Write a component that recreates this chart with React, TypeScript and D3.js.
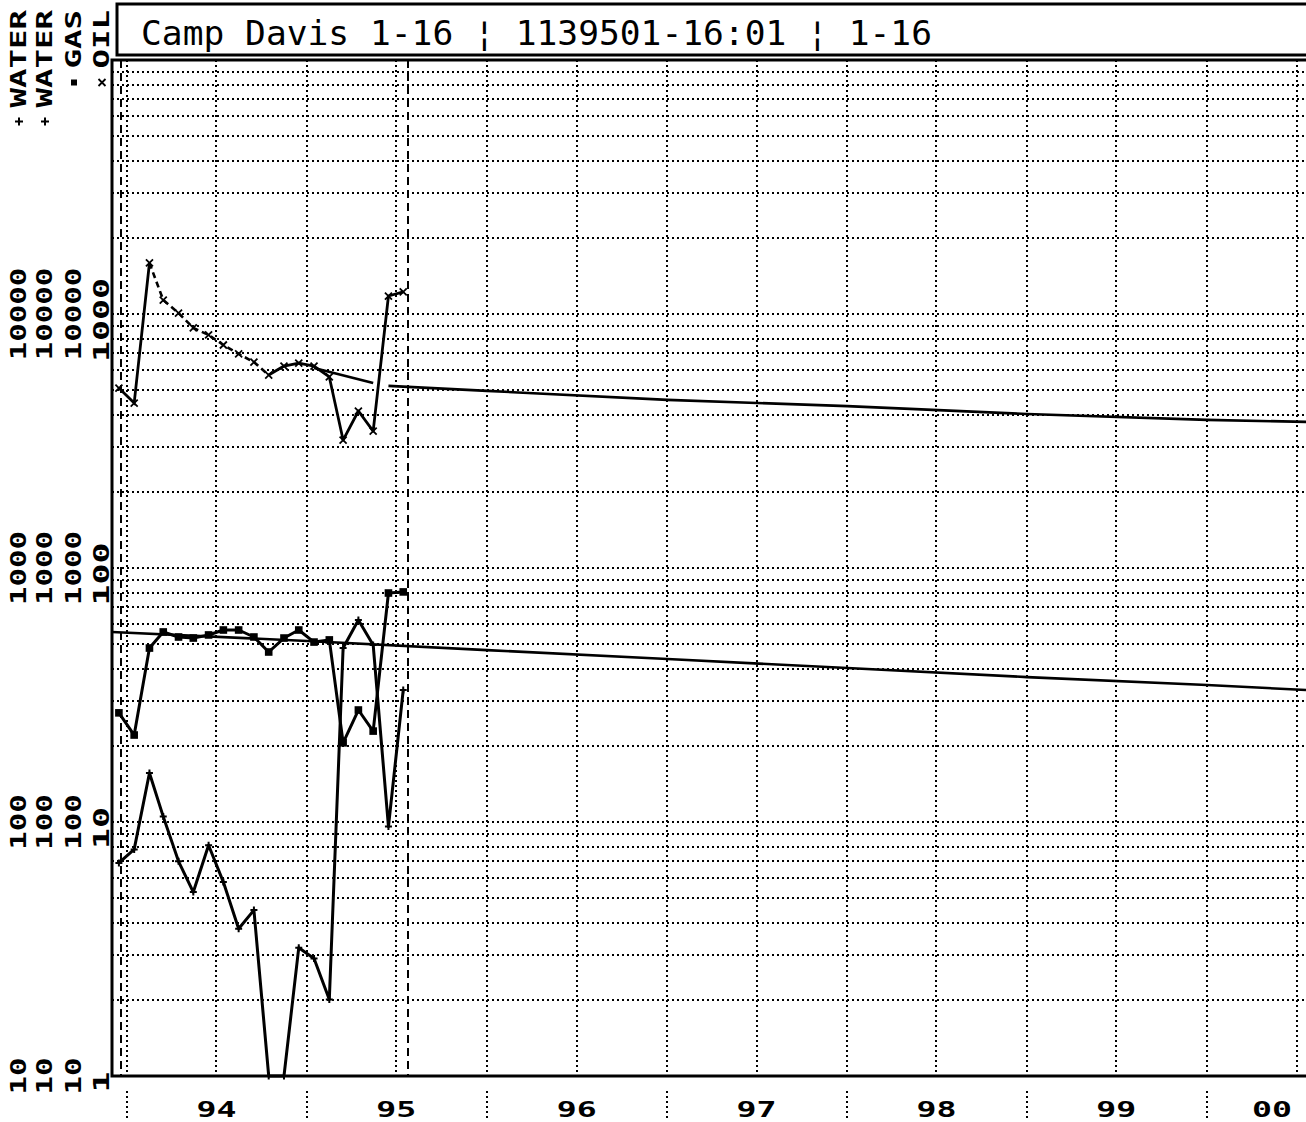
import React from 'react';
import * as d3 from 'd3';

// monthly production points (plotted mid-month)
const months = [
  '1993-12', '1994-01', '1994-02', '1994-03', '1994-04', '1994-05', '1994-06',
  '1994-07', '1994-08', '1994-09', '1994-10', '1994-11', '1994-12', '1995-01',
  '1995-02', '1995-03', '1995-04', '1995-05', '1995-06', '1995-07',
];
const oil = [511, 446, 1588, 1135, 1009, 881, 827, 755, 696, 647, 575, 624, 641, 624, 565, 319, 415, 346, 1177, 1221];
const gas = [269, 220, 484, 560, 535, 530, 545, 570, 570, 535, 467, 530, 570, 511, 521, 205, 276, 228, 797, 805];
const water = [69, 78, 156, 105, 70, 53, 81, 58, 38, 45, 0, 0, 32, 29, 20, 484, 624, 498, 96, 331];

// decline fits / forecasts
const oilFitDates = ['1995-01-15', '1995-05-15'];
const oilFit = [613, 535];
const oilForecastDates = ['1995-06-15', '1996-01-01', '1997-01-01', '1998-01-01', '1999-01-01', '2000-01-01', '2000-07-20'];
const oilForecast = [521, 498, 459, 434, 404, 383, 376];
const gasForecastDates = ['1993-12-01', '1995-01-01', '1996-01-01', '1997-01-01', '1998-01-01', '1999-01-01', '2000-01-01', '2000-07-20'];
const gasForecast = [560, 516, 475, 438, 404, 372, 346, 331];

const limitDates = ['1993-12-19', '1995-07-24'];
const yearLabels = ['94', '95', '96', '97', '98', '99', '00'];
const oilTickLabels = ['1', '10', '100', '1000'];
const waterTickLabels = ['10', '100', '1000', '10000'];
const gasTickLabels = ['10', '100', '1000', '10000'];
const legendItems = [
  { name: 'WATER', mark: 'plus' },
  { name: 'WATER', mark: 'plus' },
  { name: 'GAS', mark: 'square' },
  { name: 'OIL', mark: 'cross' },
];
const title = 'Camp Davis 1-16 \u00A6 1139501-16:01 \u00A6 1-16';

const W = 1306;
const H = 1122;
const margin = { left: 112, top: 60, bottom: 1076, right: 1306 };
const monoBold = '"DejaVu Sans Mono", monospace';

const parseDay = d3.utcParse('%Y-%m-%d');
const parseMonth = d3.utcParse('%Y-%m');

export default function App() {
  const x = d3
    .scaleUtc()
    .domain([parseDay('1993-12-01')!, parseDay('2000-07-20')!])
    .range([margin.left, margin.right]);
  const y = d3.scaleLog().domain([1, 10000]).range([margin.bottom, margin.top]).clamp(true);

  const monthDates = months.map((m) => d3.utcDay.offset(parseMonth(m)!, 14));
  const pts = (vals: number[], dates: Date[], div: number) =>
    vals.map((v, i) => [x(dates[i]), y(v / div)] as [number, number]);

  const line = d3.line<[number, number]>();

  const oilPts = pts(oil, monthDates, 1);
  const gasPts = pts(gas, monthDates, 10);
  const waterPts = pts(water, monthDates, 10);
  const oilFitPts = pts(oilFit, oilFitDates.map((d) => parseDay(d)!), 1);
  const oilFcPts = pts(oilForecast, oilForecastDates.map((d) => parseDay(d)!), 1);
  const gasFcPts = pts(gasForecast, gasForecastDates.map((d) => parseDay(d)!), 10);

  const hGrid = y.ticks().filter((v) => v > 1 && v < 10000);
  const vGrid = d3.utcMonth.every(6)!.range(parseDay('1994-01-01')!, parseDay('2000-07-02')!);
  const yearStarts = d3.utcYear.range(parseDay('1994-01-01')!, parseDay('2000-01-02')!);

  const colX = [26, 52, 81, 109];
  const tickVals = [1, 10, 100, 1000];
  const tickCols = [waterTickLabels, waterTickLabels, gasTickLabels, oilTickLabels];

  const dot = { stroke: '#000', strokeWidth: 2, strokeDasharray: '2,3', fill: 'none', shapeRendering: 'crispEdges' as const };

  const cross = (px: number, py: number, s: number, k: string) => (
    <path key={k} d={`M${px - s},${py - s}L${px + s},${py + s}M${px - s},${py + s}L${px + s},${py - s}`} stroke="#000" strokeWidth={1.8} />
  );
  const plus = (px: number, py: number, s: number, k: string) => (
    <path key={k} d={`M${px - s},${py}L${px + s},${py}M${px},${py - s}L${px},${py + s}`} stroke="#000" strokeWidth={2} />
  );
  const square = (px: number, py: number, s: number, k: string) => (
    <rect key={k} x={px - s} y={py - s} width={2 * s} height={2 * s} fill="#000" />
  );

  return (
    <svg width={W} height={H} style={{ position: 'absolute', left: 0, top: 0, background: '#fff' }}>
      <rect width={W} height={H} fill="#fff" />

      {/* title box */}
      <rect x={117} y={4} width={1200} height={51} fill="none" stroke="#000" strokeWidth={3} />
      <text x={141} y={45} fontFamily='"DejaVu Sans Mono", monospace' fontSize={34} textLength={791} lengthAdjust="spacingAndGlyphs">
        {title}
      </text>

      {/* grid */}
      {hGrid.map((v) => (
        <line key={'h' + v} x1={margin.left} x2={margin.right + 10} y1={Math.round(y(v))} y2={Math.round(y(v))} style={dot} />
      ))}
      {vGrid.map((d, i) => (
        <line key={'v' + i} x1={Math.round(x(d))} x2={Math.round(x(d))} y1={margin.top} y2={margin.bottom} style={dot} />
      ))}
      {yearStarts.map((d, i) => (
        <line key={'yt' + i} x1={Math.round(x(d))} x2={Math.round(x(d))} y1={1091} y2={1118} style={dot} />
      ))}
      {limitDates.map((d) => (
        <line key={d} x1={Math.round(x(parseDay(d)!))} x2={Math.round(x(parseDay(d)!))} y1={margin.top} y2={margin.bottom}
          stroke="#000" strokeWidth={2} strokeDasharray="8,5" shapeRendering="crispEdges" />
      ))}

      {/* forecasts */}
      <path d={line(gasFcPts)!} fill="none" stroke="#000" strokeWidth={2.6} />
      <path d={line(oilFcPts)!} fill="none" stroke="#000" strokeWidth={2.6} />
      <path d={line(oilFitPts)!} fill="none" stroke="#000" strokeWidth={2.8} />

      {/* actuals */}
      <path d={line(waterPts)!} fill="none" stroke="#000" strokeWidth={3} strokeLinejoin="round" />
      <path d={line(gasPts)!} fill="none" stroke="#000" strokeWidth={3} strokeLinejoin="round" />
      <path d={line(oilPts.slice(0, 3))!} fill="none" stroke="#000" strokeWidth={2.8} />
      <path d={line(oilPts.slice(2, 11))!} fill="none" stroke="#000" strokeWidth={2.6} strokeDasharray="6,4" />
      <path d={line(oilPts.slice(10))!} fill="none" stroke="#000" strokeWidth={2.8} strokeLinejoin="round" />

      {waterPts.map((p, i) => plus(p[0], p[1], 3.5, 'wm' + i))}
      {gasPts.map((p, i) => square(p[0], p[1], 3.8, 'gm' + i))}
      {oilPts.map((p, i) => cross(p[0], p[1], 3.5, 'om' + i))}

      {/* frame */}
      <rect x={margin.left} y={margin.top} width={1220} height={margin.bottom - margin.top} fill="none" stroke="#000" strokeWidth={3} />

      {/* x labels */}
      {yearStarts.map((d, i) => (
        <text key={'yl' + i} x={Math.min(x(d3.utcMonth.offset(d, 6)), 1272)} y={1117} textAnchor="middle" fontFamily={monoBold}
          fontWeight="bold" fontSize={22} textLength={40} lengthAdjust="spacingAndGlyphs">
          {yearLabels[i]}
        </text>
      ))}

      {/* rotated y labels */}
      {tickCols.map((labels, c) =>
        labels.map((lab, i) => {
          const adv = c === 3 ? 21 : 18.5;
          const cy = y(tickVals[i]) + (c === 3 ? 6 : 0);
          return (
            <text key={'yl' + c + i} transform={`translate(${colX[c]},${cy}) rotate(-90)`} textAnchor="middle"
              fontFamily={monoBold} fontWeight="bold" fontSize={21} textLength={adv * lab.length} lengthAdjust="spacingAndGlyphs">
              {lab}
            </text>
          );
        })
      )}

      {/* legend */}
      {legendItems.map((it, c) => {
        const len = it.name.length * 19.5;
        const mx = colX[c] - 7;
        const my = 10 + len + 14;
        return (
          <g key={'lg' + c}>
            <text transform={`translate(${colX[c]},10) rotate(-90)`} textAnchor="end" fontFamily={monoBold}
              fontWeight="bold" fontSize={21} textLength={len} lengthAdjust="spacingAndGlyphs">
              {it.name}
            </text>
            {it.mark === 'plus' && plus(mx, my, 4, 'lm' + c)}
            {it.mark === 'square' && square(mx, my, 3, 'lm' + c)}
            {it.mark === 'cross' && cross(mx, my, 3.5, 'lm' + c)}
          </g>
        );
      })}
    </svg>
  );
}
